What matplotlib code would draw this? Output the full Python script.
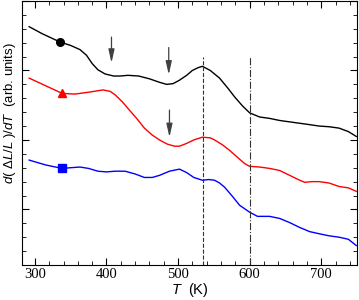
from matplotlib import pyplot as plt
from matplotlib.ticker import MultipleLocator, NullFormatter
import numpy as np

plt.rcParams['mathtext.fontset'] = 'custom'
plt.rcParams['mathtext.rm'] = 'Liberation Sans'
plt.rcParams['mathtext.it'] = 'Liberation Sans:italic'

# curves (T in K, arbitrary units)
t_black = [292, 310, 335, 350, 363, 372, 380, 388, 398, 410, 419, 430, 445, 460, 474, 484, 493, 502, 512,
           520, 528, 534, 545, 558, 570, 579, 590, 600, 614, 628, 642, 656, 670, 684, 697, 711, 725, 738, 749]
y_black = [2.63, 2.53, 2.41, 2.36, 2.30, 2.22, 2.10, 2.01, 1.95, 1.92, 1.92, 1.93, 1.92, 1.88, 1.83, 1.80, 1.81, 1.86, 1.93,
           2.00, 2.04, 2.06, 2.00, 1.89, 1.74, 1.62, 1.49, 1.39, 1.33, 1.31, 1.28, 1.26, 1.24, 1.22, 1.20, 1.19, 1.17, 1.12, 1.05]

t_red = [292, 315, 338, 356, 377, 395, 405, 412, 422, 432, 443, 453, 464, 474, 485, 495, 502, 512,
         522, 534, 545, 551, 562, 572, 583, 593, 600, 614, 628, 642, 656, 670, 677, 687, 697, 711, 725, 738, 749]
y_red = [1.89, 1.78, 1.67, 1.66, 1.69, 1.72, 1.70, 1.65, 1.55, 1.43, 1.30, 1.17, 1.07, 1.00, 0.94, 0.91, 0.91, 0.95,
         1.00, 1.04, 1.03, 1.00, 0.93, 0.85, 0.75, 0.66, 0.62, 0.61, 0.59, 0.56, 0.49, 0.42, 0.39, 0.40, 0.40, 0.38, 0.33, 0.31, 0.26]

t_blue = [292, 315, 338, 350, 363, 375, 388, 400, 412, 426, 440, 453, 464, 474, 488, 502, 512, 522, 534,
          543, 551, 558, 565, 575, 586, 600, 611, 620, 628, 642, 656, 670, 684, 697, 711, 725, 738, 749]
y_blue = [0.71, 0.64, 0.59, 0.60, 0.61, 0.59, 0.55, 0.54, 0.55, 0.55, 0.51, 0.46, 0.46, 0.49, 0.55, 0.58, 0.53, 0.46, 0.42,
          0.43, 0.42, 0.38, 0.32, 0.20, 0.06, -0.04, -0.10, -0.10, -0.10, -0.13, -0.19, -0.26, -0.32, -0.35, -0.38, -0.40, -0.43, -0.52]

markers = [(335, 2.41, 'o', 'k'), (338, 1.67, '^', 'r'), (338, 0.59, 's', 'b')]
arrows = [(407, 2.48, 2.11), (487, 2.33, 1.94), (488, 1.43, 1.04)]
vlines = [(535, '--'), (600, '-.')]

fig = plt.figure(figsize=(3.59, 3.0), dpi=100)
ax = fig.add_axes([0.0613, 0.1167, 0.9331, 0.88])

ax.plot(t_black, y_black, color='k', lw=1.0)
ax.plot(t_red, y_red, color='r', lw=1.0)
ax.plot(t_blue, y_blue, color='b', lw=1.0)
for tx, ty, m, c in markers:
    ax.plot(tx, ty, marker=m, color=c, ms=5.5)

for tx, y0, y1 in arrows:
    ax.annotate('', xy=(tx, y1), xytext=(tx, y0),
                arrowprops=dict(arrowstyle='-|>,head_width=0.18,head_length=0.8', color='0.25', lw=0.9,
                                shrinkA=0, shrinkB=0))
for tx, ls in vlines:
    ax.plot([tx, tx], [-0.8, 2.2], color='0.2', ls=ls, lw=0.8)

ax.set_xlim(282, 750)
ax.set_ylim(-0.8, 3.0)
ax.xaxis.set_major_locator(MultipleLocator(100))
ax.xaxis.set_minor_locator(MultipleLocator(20))
ax.yaxis.set_major_locator(MultipleLocator(1))
ax.yaxis.set_minor_locator(MultipleLocator(0.2))
ax.yaxis.set_major_formatter(NullFormatter())
ax.tick_params(which='both', direction='in', top=True, right=True)
ax.tick_params(which='major', length=5, pad=2)
ax.tick_params(which='minor', length=3)
for lab in ax.get_xticklabels():
    lab.set_family('Liberation Serif')
    lab.set_fontsize(10.5)

ax.set_xlabel('$T$  (K)', family='Liberation Sans', fontsize=10.5, labelpad=0)
ax.set_ylabel(r'$d($ $\Delta L/L$ $)/dT$  (arb. units)', family='Liberation Sans', fontsize=9.5)
ax.yaxis.set_label_coords(-0.013, 0.576)
plt.savefig('out.png', dpi=100)
